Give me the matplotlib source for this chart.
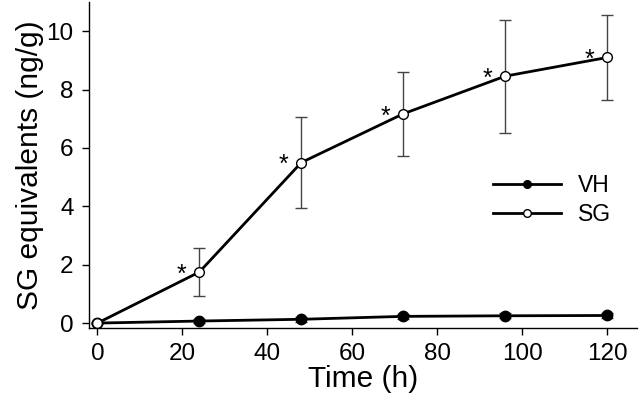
import matplotlib
matplotlib.use("Agg")
import matplotlib.pyplot as plt
from matplotlib.lines import Line2D

plt.rcParams['font.family'] = ['Liberation Sans', 'DejaVu Sans']

hours = [0, 24, 48, 72, 96, 120]
vh_mean = [0.0, 0.07, 0.13, 0.23, 0.25, 0.26]
vh_err = [0.03, 0.06, 0.08, 0.09, 0.08, 0.08]
sg_mean = [0.0, 1.75, 5.5, 7.17, 8.46, 9.1]
sg_err = [0.0, 0.82, 1.56, 1.43, 1.94, 1.46]
star_hours = [24, 48, 72, 96, 120]


def graphic():
	fig = plt.figure(figsize=(6.4, 4.07), dpi=100)
	ax = fig.add_axes([0.139, 0.194, 0.856, 0.801])

	ax.errorbar(hours, vh_mean, yerr=vh_err, color='black', lw=2, marker='o',
		ms=7.5, mfc='black', mec='black', ecolor='#333333', elinewidth=1,
		capsize=4, capthick=1, zorder=3)
	ax.errorbar(hours, sg_mean, yerr=sg_err, color='black', lw=2, marker='o',
		ms=7, mfc='white', mec='black', mew=1, ecolor='#444444', elinewidth=1,
		capsize=4, capthick=1, zorder=3)

	for h in star_hours:
		y = sg_mean[hours.index(h)]
		ax.annotate('*', (h, y), xytext=(-13, -2), textcoords='offset points',
			ha='center', va='center', fontsize=18)

	ax.set_xlim(-2, 127)
	ax.set_ylim(-0.17, 11)
	ax.set_xticks(range(0, 121, 20))
	ax.set_yticks(range(0, 11, 2))
	ax.tick_params(labelsize=17.5, length=5, width=1, pad=6)
	for s in ['top', 'right']:
		ax.spines[s].set_visible(False)
	ax.spines['left'].set_linewidth(1)
	ax.spines['bottom'].set_linewidth(1)

	ax.set_xlabel('Time (h)', fontsize=21.5, labelpad=0)
	ax.set_ylabel('SG equivalents (ng/g)', fontsize=21.5, labelpad=2)

	handles = [
		Line2D([], [], color='black', lw=2, marker='o', ms=5.5, mfc='black', mec='black'),
		Line2D([], [], color='black', lw=2, marker='o', ms=5.5, mfc='white', mec='black', mew=1),
	]
	ax.legend(handles, ['VH', 'SG'], loc='center left', bbox_to_anchor=(0.737, 0.393),
		frameon=False, fontsize=16.5, handlelength=3.0, handletextpad=0.7,
		labelspacing=0.25, borderpad=0, borderaxespad=0)

	fig.savefig('out.png', dpi=100)


if __name__ == "__main__":
	graphic()
